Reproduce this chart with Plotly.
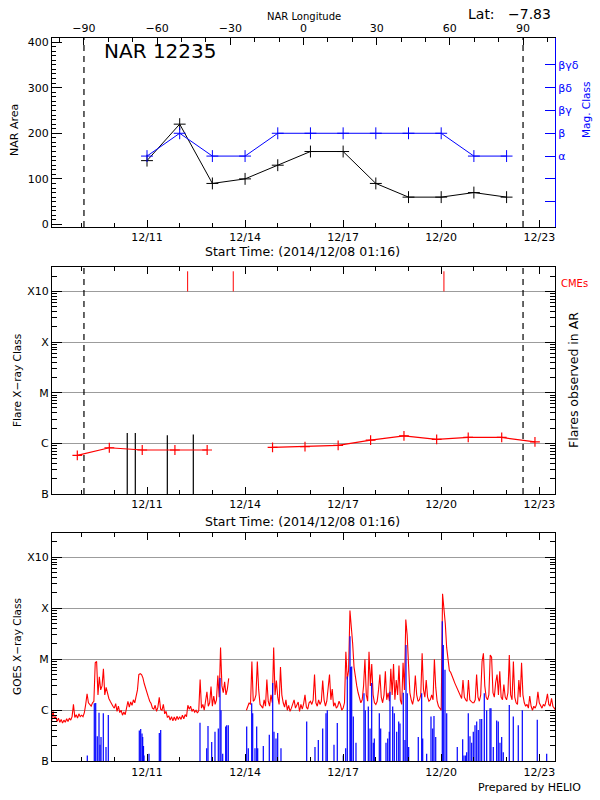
import pandas as pd
import plotly.graph_objects as go

# ---------------- data ----------------
# top panel: NOAA active region 12235
nar_dates = ["2014-12-11", "2014-12-12", "2014-12-13", "2014-12-14", "2014-12-15", "2014-12-16",
             "2014-12-17", "2014-12-18", "2014-12-19", "2014-12-20", "2014-12-21", "2014-12-22"]
nar_area = [140, 220, 90, 100, 130, 160, 160, 90, 60, 60, 70, 60]
mag_class = ["α", "β", "α", "α", "β", "β", "β", "β", "β", "β", "α", "α"]
mag_levels = ["", "", "α", "β", "βγ", "βδ", "βγδ"]
mag_level_pos = [50, 100, 150, 200, 250, 300, 350]
limb_lon = [-90, 90]
lon_ticks = [-90, -60, -30, 0, 30, 60, 90]
date_ticks = ["2014-12-11", "2014-12-14", "2014-12-17", "2014-12-20", "2014-12-23"]
date_labels = ["12/11", "12/14", "12/17", "12/20", "12/23"]
time_range = ["2014-12-08 02:15", "2014-12-23 11:33"]

# X-ray class scale (W/m^2)
class_vals = [1e-7, 1e-6, 1e-5, 1e-4, 1e-3]
class_labels = ["B", "C", "M", "X", "X10"]

# middle panel: daily flare level line (C-class units = 1e-6 W/m^2)
flare_times = ["2014-12-08 20:50", "2014-12-09 20:20", "2014-12-10 20:30", "2014-12-11 20:30",
               "2014-12-12 20:10", None, "2014-12-14 20:10", "2014-12-15 20:00", "2014-12-16 20:20",
               "2014-12-17 20:10", "2014-12-18 20:40", "2014-12-19 20:40", "2014-12-20 19:50",
               "2014-12-21 20:25", "2014-12-22 20:50"]
flare_level_c = [0.58, 0.82, 0.74, 0.74, 0.74, None, 0.83, 0.86, 0.91,
                 1.16, 1.41, 1.2, 1.31, 1.31, 1.07]
# flares observed in AR
ar_flare_times = ["2014-12-10 09:30", "2014-12-10 15:25", "2014-12-11 14:55", "2014-12-12 10:00"]
ar_flare_c = [1.6, 1.6, 1.45, 1.5]
# CMEs
cme_times = ["2014-12-12 05:50", "2014-12-13 15:20", "2014-12-20 02:00"]
cme_base_c = 1000.0
cme_top_c = 2500.0

# bottom panel: GOES 1-8 A, hourly from 2014-12-08 00:00 (C-class units)
goes_long_start = "2014-12-08 00:00"
goes_long_c = [
    0.6, 0.6, 0.62, 0.95, 0.68, 0.75, 0.6, 0.7, 0.58, 0.66, 0.56, 0.64, 0.58, 0.68, 0.6, 0.7, 0.64, 0.75, 1.3, 0.72, 0.82, 0.7, 0.85, 0.75,
    0.8, 0.75, 0.9, 1.3, 2.1, 1.4, 1.3, 1.2, 1.4, 1.5, 8.5, 9.0, 2.0, 4.5, 2.5, 3.0, 6.5, 2.0, 2.8, 2.0, 1.7, 1.5, 1.3, 1.2,
    1.1, 1.35, 0.95, 1.2, 0.9, 1.0, 0.8, 0.92, 0.82, 1.05, 1.5, 1.15, 1.45, 1.25, 1.6, 1.4, 1.9, 2.5, 5.0, 5.2, 5.0, 4.3, 3.3, 2.6,
    2.2, 1.8, 1.5, 1.35, 1.1, 1.05, 1.25, 0.95, 1.15, 1.8, 1.05, 1.0, 1.3, 0.85, 0.95, 0.72, 0.78, 0.64, 0.75, 0.62, 0.74, 0.63, 0.76, 0.66,
    0.75, 0.66, 0.8, 0.68, 0.82, 0.75, 1.25, 1.05, 1.2, 0.95, 1.05, 0.92, 1.0, 0.88, 0.98, 4.0, 1.1, 1.3, 1.0, 1.5, 2.3, 1.2, 1.4, 2.9,
    1.2, 1.9, 1.3, 1.6, 4.8, 1.8, 17, 3.0, 2.2, 3.6, 2.0, 2.6, 4.2, None, None, None, None, None, None, None, None, None, None, None,
    None, 1.0, 1.2, 1.4, 1.3, 9.0, 1.5, 1.6, 2.0, 9.0, 2.5, 1.3, 1.2, 1.1, 1.6, 1.2, 4.0, 1.5, 1.2, 2.0, 1.4, 17, 2.0, 3.8,
    1.8, 1.3, 7.0, 2.0, 1.4, 1.15, 1.6, 1.0, 1.25, 0.95, 1.1, 1.35, 1.6, 1.1, 1.3, 1.45, 0.95, 1.3, 1.05, 1.35, 2.0, 1.15, 1.05, 1.4,
    1.5, 1.3, 1.6, 5.0, 1.4, 1.2, 1.6, 1.3, 1.5, 3.8, 1.6, 1.2, 1.5, 2.5, 5.0, 1.6, 2.6, 1.2, 1.4, 1.1, 1.2, 1.5, 1.3, 1.0,
    1.1, 1.4, 14, 4.0, 6.0, 90, 45, 20, 7.0, 4.0, 3.0, 2.2, 1.7, 1.4, 1.6, 3.0, 10, 2.0, 1.5, 14, 3.0, 8.0, 2.0, 1.4,
    1.3, 1.5, 2.5, 5.0, 1.8, 1.4, 2.0, 5.8, 1.6, 2.2, 1.5, 6.5, 2.0, 8.0, 1.6, 3.9, 2.0, 7.5, 1.6, 1.3, 8.5, 2.5, 60, 30,
    8.0, 2.2, 1.6, 1.3, 1.8, 4.8, 2.0, 1.5, 1.6, 2.0, 13, 2.5, 1.8, 3.9, 1.8, 1.5, 1.6, 2.0, 1.6, 10, 2.8, 1.5, 1.2, 1.1,
    1.0, 190, 100, 50, 17, 9.0, 6.0, 5.5, 4.5, 4.0, 3.4, 3.0, 2.6, 2.3, 2.0, 1.7, 3.9, 1.8, 1.6, 1.5, 3.9, 1.6, 1.5, 1.4,
    1.4, 1.6, 5.0, 1.8, 1.5, 2.0, 9.0, 13, 3.0, 1.8, 1.6, 2.0, 12, 11, 2.2, 1.8, 3.5, 5.0, 2.0, 5.8, 1.8, 1.6, 3.2, 1.8,
    1.6, 2.2, 12, 2.0, 1.6, 9.0, 1.8, 1.4, 1.3, 3.9, 1.8, 8.5, 2.0, 1.4, 1.2, 1.3, 1.1, 1.9, 1.2, 1.0, 1.2, 1.1, 1.3, 2.3,
    1.4, 1.2, 1.1, 1.3, 1.2, 1.5, 2.1, 1.3, 1.2, 1.7, 1.2, 1.1, 1.0,
]
# GOES 0.5-4 A spikes (C-class units); below B they drop off the chart
goes_short_times = [
    "2014-12-09 04:10", "2014-12-09 09:18", "2014-12-09 10:20", "2014-12-09 11:30", "2014-12-09 12:46",
    "2014-12-09 13:30", "2014-12-09 14:14", "2014-12-09 15:55", "2014-12-09 17:54", "2014-12-09 19:35",
    "2014-12-10 18:21", "2014-12-10 19:22", "2014-12-10 20:20", "2014-12-10 20:50", "2014-12-10 21:26",
    "2014-12-10 21:48", "2014-12-11 01:28", "2014-12-11 09:02", "2014-12-11 10:03", "2014-12-12 14:54",
    "2014-12-12 19:50", "2014-12-12 20:47", "2014-12-12 23:30", "2014-12-13 01:55", "2014-12-13 04:21",
    "2014-12-13 05:36", "2014-12-13 06:20", "2014-12-13 07:35", "2014-12-13 09:46", "2014-12-13 10:31",
    "2014-12-13 11:41", "2014-12-14 01:12", "2014-12-14 02:22", "2014-12-14 04:52", "2014-12-14 05:36",
    "2014-12-14 07:17", "2014-12-14 08:32", "2014-12-14 09:16", "2014-12-14 13:23", "2014-12-14 17:47",
    "2014-12-14 20:17", "2014-12-14 21:14", "2014-12-14 22:42", "2014-12-14 23:57", "2014-12-15 02:22",
    "2014-12-15 21:15", "2014-12-16 03:20", "2014-12-16 05:46", "2014-12-16 09:00", "2014-12-16 11:25",
    "2014-12-16 12:22", "2014-12-16 17:17", "2014-12-16 19:42", "2014-12-17 00:07", "2014-12-17 01:53",
    "2014-12-17 03:03", "2014-12-17 05:02", "2014-12-17 05:33", "2014-12-17 06:17", "2014-12-17 07:28",
    "2014-12-17 09:26", "2014-12-17 15:18", "2014-12-17 16:16", "2014-12-17 18:29", "2014-12-17 19:44",
    "2014-12-17 20:58", "2014-12-17 22:09", "2014-12-17 22:53", "2014-12-18 02:33", "2014-12-18 03:34",
    "2014-12-18 07:28", "2014-12-18 08:43", "2014-12-18 09:53", "2014-12-18 10:24", "2014-12-18 12:23",
    "2014-12-18 13:34", "2014-12-18 15:19", "2014-12-18 16:48", "2014-12-18 17:44", "2014-12-18 20:10",
    "2014-12-18 21:24", "2014-12-18 22:09", "2014-12-18 23:06", "2014-12-19 00:07", "2014-12-19 07:10",
    "2014-12-19 09:40", "2014-12-19 10:25", "2014-12-19 13:20", "2014-12-19 16:30", "2014-12-19 17:45",
    "2014-12-19 18:42", "2014-12-19 19:58", "2014-12-20 00:48", "2014-12-20 01:32", "2014-12-20 02:47",
    "2014-12-20 04:02", "2014-12-20 11:48", "2014-12-20 15:46", "2014-12-20 16:44", "2014-12-20 17:58",
    "2014-12-20 18:43", "2014-12-20 19:53", "2014-12-20 21:08", "2014-12-20 22:23", "2014-12-20 23:34",
    "2014-12-21 00:49", "2014-12-21 02:04", "2014-12-21 03:14", "2014-12-21 04:29", "2014-12-21 05:44",
    "2014-12-21 07:38", "2014-12-21 09:24", "2014-12-21 11:49", "2014-12-21 12:33", "2014-12-21 14:14",
    "2014-12-21 16:44", "2014-12-21 17:54", "2014-12-21 19:09", "2014-12-21 20:24", "2014-12-21 21:34",
    "2014-12-22 01:59", "2014-12-22 04:55", "2014-12-22 08:35", "2014-12-22 11:33", "2014-12-22 22:32",
    "2014-12-23 05:27",
]
goes_short_c = [
    0.13, 1.37, 1.39, 0.31, 0.89, 0.21, 0.3, 0.87, 0.19, 0.81,
    0.4, 0.43, 0.35, 0.3, 0.2, 0.13, 0.14, 0.36, 0.41, 0.57,
    0.18, 0.49, 0.24, 0.38, 0.44, 4.3, 1.0, 0.14, 0.48, 0.51,
    0.51, 0.48, 0.18, 1.37, 0.87, 0.18, 0.48, 0.18, 0.2, 0.33,
    3.4, 0.38, 0.28, 0.36, 0.18, 0.6, 0.19, 0.26, 0.44, 0.87,
    1.0, 0.21, 0.56, 0.13, 0.18, 4.6, 28, 7.0, 7.2, 0.75,
    0.23, 2.15, 1.0, 1.18, 0.44, 3.4, 0.23, 0.28, 0.87, 0.44,
    0.23, 0.28, 0.38, 2.3, 1.18, 0.87, 0.38, 0.6, 0.55, 2.2,
    0.26, 19, 2.15, 0.19, 0.3, 2.15, 0.28, 0.14, 0.75, 0.44,
    0.77, 0.3, 55, 19, 6.2, 0.87, 0.19, 0.27, 0.13, 0.13,
    0.15, 0.87, 0.31, 0.23, 0.38, 0.51, 0.6, 0.41, 0.67, 0.67,
    2.15, 1.0, 1.1, 1.1, 0.19, 0.63, 0.6, 0.23, 0.3, 0.15,
    1.27, 0.75, 0.51, 1.0, 0.65, 0.14,
]
goes_short_base_c = 0.01

# ---------------- helpers ----------------
C = 1e-6
FONT = "DejaVu Sans"


def to_wm2(vals):
    return [None if v is None else v * C for v in vals]


def segments(times, tops, base):
    xs, ys = [], []
    for t, v in zip(times, tops):
        xs += [t, t, None]
        ys += [base, v, None]
    return xs, ys


W = 600.0
H = 800.0
def px(x):
    return x / W
def py(y):
    return 1 - y / H

x_dom = [px(52), px(555)]
dom_top = [py(227), py(37.5)]
dom_mid = [py(494), py(267.3)]
dom_bot = [py(761.3), py(532.7)]

fig = go.Figure()

# ---- top panel ----
class_pos = dict(zip(mag_levels, mag_level_pos))
fig.add_trace(go.Scatter(
    x=nar_dates, y=[class_pos[c] for c in mag_class], mode="lines+markers",
    line=dict(color="#0000ff", width=1),
    marker=dict(symbol="cross-thin", size=8.5, line=dict(color="#0000ff", width=1)),
    xaxis="x", yaxis="y4", showlegend=False, hoverinfo="skip"))
fig.add_trace(go.Scatter(
    x=nar_dates, y=nar_area, mode="lines+markers",
    line=dict(color="black", width=1),
    marker=dict(symbol="cross-thin", size=8.5, line=dict(color="black", width=1)),
    xaxis="x", yaxis="y", showlegend=False, hoverinfo="skip"))
fig.add_trace(go.Scatter(x=limb_lon, y=[None, None], xaxis="x4", yaxis="y",
                         showlegend=False, hoverinfo="skip"))

# ---- middle panel ----
cx, cy = segments(cme_times, [cme_top_c * C] * len(cme_times), cme_base_c * C)
fig.add_trace(go.Scatter(x=cx, y=cy, mode="lines", line=dict(color="#ff0000", width=1),
                         xaxis="x2", yaxis="y2", showlegend=False, hoverinfo="skip"))
ax_, ay_ = segments(ar_flare_times, to_wm2(ar_flare_c), class_vals[0])
fig.add_trace(go.Scatter(x=ax_, y=ay_, mode="lines", line=dict(color="black", width=1.2),
                         xaxis="x2", yaxis="y2", showlegend=False, hoverinfo="skip"))
fig.add_trace(go.Scatter(
    x=flare_times, y=to_wm2(flare_level_c), mode="lines+markers",
    line=dict(color="#ff0000", width=1.2), connectgaps=False,
    marker=dict(symbol="cross-thin", size=7, line=dict(color="#ff0000", width=1.2)),
    xaxis="x2", yaxis="y2", showlegend=False, hoverinfo="skip"))

# ---- bottom panel ----
goes_times = pd.date_range(goes_long_start, periods=len(goes_long_c), freq="h")
fig.add_trace(go.Scatter(x=goes_times, y=to_wm2(goes_long_c), mode="lines",
                         line=dict(color="#ff0000", width=1.1), connectgaps=False,
                         xaxis="x3", yaxis="y3", showlegend=False, hoverinfo="skip"))
bx, by = segments(goes_short_times, to_wm2(goes_short_c), goes_short_base_c * C)
fig.add_trace(go.Scatter(x=bx, y=by, mode="lines", line=dict(color="#0000ff", width=1.2),
                         xaxis="x3", yaxis="y3", showlegend=False, hoverinfo="skip"))

# ---------------- axes ----------------
tickfont = dict(family=FONT, size=11, color="black")
minor_day = dict(dtick=86400000, tick0="2014-12-08", ticks="inside", ticklen=4,
                 tickcolor="black", tickwidth=1, showgrid=False)
log_minor = [k * 10.0 ** e for e in range(-7, -2) for k in range(2, 10)] + [2e-3]


def time_axis(anchor, mirror):
    return dict(domain=x_dom, anchor=anchor, type="date", range=time_range,
                tickmode="array", tickvals=date_ticks, ticktext=date_labels,
                ticks="inside", ticklen=7, tickwidth=1,
                tickcolor="black", minor=minor_day, showline=True, linecolor="black",
                linewidth=1, mirror=mirror, showgrid=False, zeroline=False,
                tickfont=tickfont, automargin=False)


def log_axis(anchor, dom):
    return dict(domain=dom, anchor=anchor, type="log", range=[-7, -2.523],
                tickmode="array", tickvals=class_vals, ticktext=class_labels,
                ticks="inside", ticklen=10, tickwidth=1, tickcolor="black",
                minor=dict(tickmode="array", tickvals=log_minor, ticks="inside",
                           ticklen=5, tickwidth=1, tickcolor="black", showgrid=False),
                showline=True, linecolor="black", linewidth=1, mirror="ticks",
                showgrid=True, gridcolor="#9c9c9c", gridwidth=1, zeroline=False,
                tickfont=tickfont, automargin=False)


fig.update_layout(
    template="none",
    width=600, height=800, margin=dict(l=0, r=0, t=0, b=0, pad=0), autosize=False,
    paper_bgcolor="white", plot_bgcolor="white", showlegend=False,
    font=dict(family=FONT, size=11, color="black"),
    xaxis=time_axis("y", False),
    xaxis2=time_axis("y2", "ticks"),
    xaxis3=time_axis("y3", "ticks"),
    xaxis4=dict(overlaying="x", side="top", anchor="y", range=[-103.1, 103.1],
                tickmode="array", tickvals=lon_ticks, ticks="inside", ticklen=7,
                tickcolor="black", minor=dict(dtick=10, tick0=0, ticks="inside", ticklen=4,
                                              tickcolor="black", showgrid=False),
                showline=True, linecolor="black", linewidth=1, showgrid=False,
                zeroline=False, tickfont=tickfont, automargin=False),
    yaxis=dict(domain=dom_top, anchor="x", range=[-5.5, 410], tickmode="linear",
               tick0=0, dtick=100, ticks="inside", ticklen=10, tickcolor="black",
               minor=dict(dtick=10, ticks="inside", ticklen=4, tickcolor="black",
                          showgrid=False),
               showline=True, linecolor="black", linewidth=1, mirror=False,
               showgrid=False, zeroline=False, tickfont=tickfont, automargin=False),
    yaxis4=dict(overlaying="y", side="right", anchor="x", range=[-5.5, 410],
                tickmode="array", tickvals=mag_level_pos, ticktext=mag_levels,
                ticks="inside", ticklen=10, tickcolor="#0000ff",
                showline=True, linecolor="#0000ff", linewidth=1, showgrid=False,
                zeroline=False, tickfont=dict(family=FONT, size=11, color="#0000ff"),
                automargin=False),
    yaxis2=log_axis("x2", dom_mid),
    yaxis3=log_axis("x3", dom_bot),
)

# limb (+/-90 deg longitude) dashed lines
shapes = []
for lon in limb_lon:
    for yref in ["y domain", "y2 domain"]:
        shapes.append(dict(type="line", xref="x4", yref=yref, x0=lon, x1=lon, y0=0, y1=1,
                           line=dict(color="black", width=1.2, dash="6px,5px")))
fig.update_layout(shapes=shapes)

start_label = "Start Time: (2014/12/08 01:16)"
ann = [
    dict(text="NAR 12235", x=px(102), y=py(51), xanchor="left", yanchor="middle", size=20),
    dict(text="Lat:", x=px(466), y=py(14), xanchor="left", yanchor="middle", size=14),
    dict(text="−7.83", x=px(553), y=py(14), xanchor="right", yanchor="middle", size=14),
    dict(text="NAR Longitude", x=px(304), y=py(17), xanchor="center", yanchor="middle", size=10),
    dict(text=start_label, x=px(302.5), y=py(252), xanchor="center", yanchor="middle", size=12.5),
    dict(text=start_label, x=px(302.5), y=py(521.5), xanchor="center", yanchor="middle", size=12.5),
    dict(text="NAR Area", x=px(15), y=py(130), xanchor="center", yanchor="middle", size=11, angle=-90),
    dict(text="Mag. Class", x=px(586), y=py(110), xanchor="center", yanchor="middle", size=10.5,
         angle=-90, color="#0000ff"),
    dict(text="Flare X−ray Class", x=px(17), y=py(381), xanchor="center", yanchor="middle",
         size=10.5, angle=-90),
    dict(text="Flares observed in AR", x=px(573), y=py(380), xanchor="center", yanchor="middle",
         size=12.5, angle=-90),
    dict(text="CMEs", x=px(574), y=py(283), xanchor="center", yanchor="middle", size=10,
         color="#ff0000"),
    dict(text="GOES X−ray Class", x=px(17), y=py(647), xanchor="center", yanchor="middle",
         size=10.5, angle=-90),
    dict(text="Prepared by HELIO", x=px(583), y=py(787), xanchor="right", yanchor="middle", size=11),
]
for a in ann:
    fig.add_annotation(text=a["text"], x=a["x"], y=a["y"], xref="paper", yref="paper",
                       xanchor=a["xanchor"], yanchor=a["yanchor"], showarrow=False,
                       textangle=a.get("angle", 0),
                       font=dict(family=FONT, size=a["size"], color=a.get("color", "black")))

fig.write_html("out.html")
